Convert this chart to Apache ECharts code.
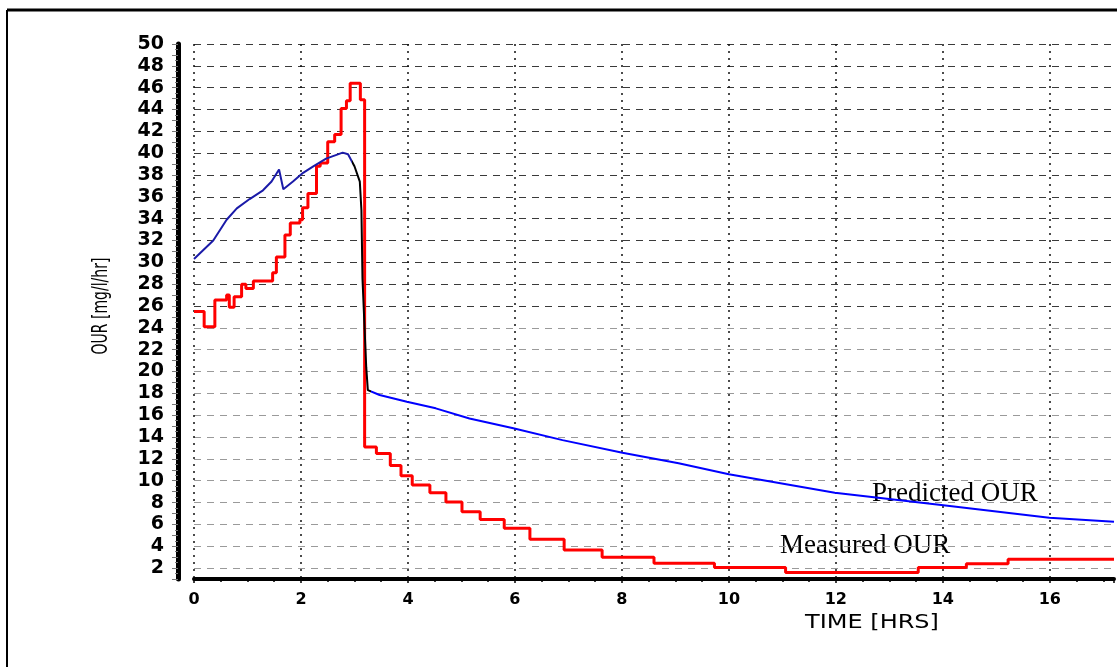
<!DOCTYPE html>
<html>
<head>
<meta charset="utf-8">
<script src="https://cdn.jsdelivr.net/npm/echarts@6/dist/echarts.min.js"></script>
<style>
html,body{margin:0;padding:0;background:#ffffff;overflow:hidden;}
#chart{width:1117px;height:667px;}
</style>
</head>
<body>
<div id="chart"></div>
<script>
// ---- data ----
// Measured OUR: step series, each point = [time (hrs), value held until next point]
const measuredTime = [0, 0.19, 0.39, 0.61, 0.66, 0.75, 0.89, 0.97, 1.11, 1.47, 1.54, 1.70, 1.80, 1.98, 2.03, 2.13, 2.29, 2.36, 2.50, 2.63, 2.75, 2.85, 2.92, 3.11, 3.19, 3.41, 3.67, 3.87, 4.08, 4.41, 4.71, 5.01, 5.35, 5.80, 6.28, 6.92, 7.63, 8.60, 9.73, 11.06, 13.54, 14.44, 15.22, 17.2];
const measuredOUR  = [25.5, 24.1, 26.55, 27.0, 25.9, 26.85, 28.0, 27.6, 28.3, 29.05, 30.5, 32.5, 33.6, 33.9, 35.0, 36.3, 38.8, 39.1, 41.05, 41.7, 44.1, 44.8, 46.4, 44.9, 13.1, 12.5, 11.4, 10.45, 9.6, 8.9, 8.05, 7.15, 6.45, 5.65, 4.65, 3.65, 3.0, 2.45, 2.05, 1.6, 2.05, 2.4, 2.8, 2.8];

// Predicted OUR: line series
const predictedTime = [0, 0.36, 0.61, 0.80, 1.04, 1.29, 1.45, 1.59, 1.67, 1.85, 2.04, 2.23, 2.47, 2.78, 2.88, 3.00, 3.10, 3.13, 3.15, 3.22, 3.25, 3.47, 3.98, 4.52, 5.15, 5.97, 6.89, 8.01, 9.06, 10.0, 11.98, 13.97, 15.99, 17.2];
const predictedOUR  = [30.3, 32.0, 33.9, 34.95, 35.8, 36.6, 37.4, 38.5, 36.7, 37.4, 38.2, 38.8, 39.5, 40.05, 39.9, 38.8, 37.4, 34.8, 28.5, 20.4, 18.3, 17.85, 17.24, 16.63, 15.7, 14.8, 13.72, 12.56, 11.6, 10.6, 8.9, 7.77, 6.61, 6.24];

// tick labels
const xTickLabels = [0, 2, 4, 6, 8, 10, 12, 14, 16];
const yTickLabels = [2, 4, 6, 8, 10, 12, 14, 16, 18, 20, 22, 24, 26, 28, 30, 32, 34, 36, 38, 40, 42, 44, 46, 48, 50];

const xAxisTitle = 'TIME [HRS]';
const yAxisTitle = 'OUR [mg/l/hr]';
const predictedName = 'Predicted OUR';
const measuredName = 'Measured OUR';

// ---- build options ----
const measuredData = measuredTime.map((t, i) => [t, measuredOUR[i]]);
const predictedData = predictedTime.map((t, i) => [t, predictedOUR[i]]);

const yMin = 1, yMax = 50;
// split line colours for every integer tick (1..50); only labelled ticks get a line
const ySplitColors = [];
for (let v = yMin; v <= yMax; v++) {
  if (yTickLabels.indexOf(v) >= 0) ySplitColors.push(v >= 26 ? '#3a3a3a' : '#9a9a9a');
  else ySplitColors.push('rgba(0,0,0,0)');
}

const chart = echarts.init(document.getElementById('chart'), null, {renderer: 'canvas'});

const option = {
  backgroundColor: '#ffffff',
  animation: false,
  grid: {left: 194, right: 0, top: 44, bottom: 88, containLabel: false},
  xAxis: {
    type: 'value',
    min: 0,
    max: 17.2,
    interval: 2,
    axisLine: {show: true, onZero: false, lineStyle: {color: '#000', width: 4}},
    axisTick: {show: true, length: 4, lineStyle: {color: '#000', width: 1.5}},
    minorTick: {show: true, splitNumber: 4, length: 3, lineStyle: {color: '#000', width: 1.5}},
    axisLabel: {
      margin: 13,
      color: '#000',
      fontFamily: 'DejaVu Sans',
      fontWeight: 'bold',
      fontSize: 16,
      formatter: v => (xTickLabels.indexOf(v) >= 0 ? String(v) : '')
    },
    splitLine: {
      show: true,
      showMinLine: true,
      showMaxLine: false,
      lineStyle: {color: '#111', width: 1.5, type: [2, 5]}
    }
  },
  yAxis: {
    type: 'value',
    min: yMin,
    max: yMax,
    interval: 1,
    offset: 16,
    axisLine: {show: true, onZero: false, lineStyle: {color: '#000', width: 5}},
    axisTick: {show: true, length: 6, lineStyle: {color: '#777', width: 1}},
    minorTick: {show: true, splitNumber: 2, length: 3, lineStyle: {color: '#777', width: 1}},
    axisLabel: {
      margin: 14,
      color: '#000',
      fontFamily: 'DejaVu Sans',
      fontWeight: 'bold',
      fontSize: 19,
      formatter: v => (yTickLabels.indexOf(v) >= 0 ? String(v) : '')
    },
    splitLine: {
      show: true,
      showMinLine: true,
      showMaxLine: true,
      lineStyle: {color: ySplitColors, width: 1, type: [7, 6]}
    }
  },
  visualMap: {
    show: false,
    type: 'piecewise',
    seriesIndex: 1,
    dimension: 0,
    pieces: [
      {lt: 2.95, color: '#1a1aa8'},
      {gte: 2.95, lt: 3.3, color: '#000000'},
      {gte: 3.3, color: '#0000ff'}
    ]
  },
  series: [
    {
      name: measuredName,
      type: 'line',
      step: 'end',
      data: measuredData,
      showSymbol: false,
      lineStyle: {color: '#ff0000', width: 3},
      itemStyle: {color: '#ff0000'},
      z: 2
    },
    {
      name: predictedName,
      type: 'line',
      data: predictedData,
      showSymbol: false,
      lineStyle: {width: 2},
      z: 3
    }
  ],
  graphic: [
    // outer frame (left & top border of the original figure)
    {type: 'line', shape: {x1: 7, y1: 10, x2: 7, y2: 667}, style: {stroke: '#000', lineWidth: 2}, silent: true},
    {type: 'line', shape: {x1: 7, y1: 10, x2: 1117, y2: 10}, style: {stroke: '#000', lineWidth: 3}, silent: true},
    // axis titles
    {
      type: 'text', x: 102, y: 306, rotation: Math.PI / 2, scaleY: 1.45,
      style: {text: yAxisTitle, font: '14px "DejaVu Sans"', fill: '#000',
              textAlign: 'center', textVerticalAlign: 'middle', align: 'center', verticalAlign: 'middle'},
      silent: true
    },
    {
      type: 'text', x: 872, y: 623, scaleX: 1.2,
      style: {text: xAxisTitle, font: '20px "DejaVu Sans"', fill: '#000',
              textAlign: 'center', textVerticalAlign: 'middle', align: 'center', verticalAlign: 'middle'},
      silent: true
    },
    // series annotations
    {
      type: 'text', x: 872, y: 494,
      style: {text: predictedName, font: '27px "Liberation Serif"', fill: '#000',
              textAlign: 'left', textVerticalAlign: 'middle', align: 'left', verticalAlign: 'middle'},
      silent: true
    },
    {
      type: 'text', x: 780, y: 546,
      style: {text: measuredName, font: '27px "Liberation Serif"', fill: '#000',
              textAlign: 'left', textVerticalAlign: 'middle', align: 'left', verticalAlign: 'middle'},
      silent: true
    }
  ]
};

chart.setOption(option);
</script>
</body>
</html>
